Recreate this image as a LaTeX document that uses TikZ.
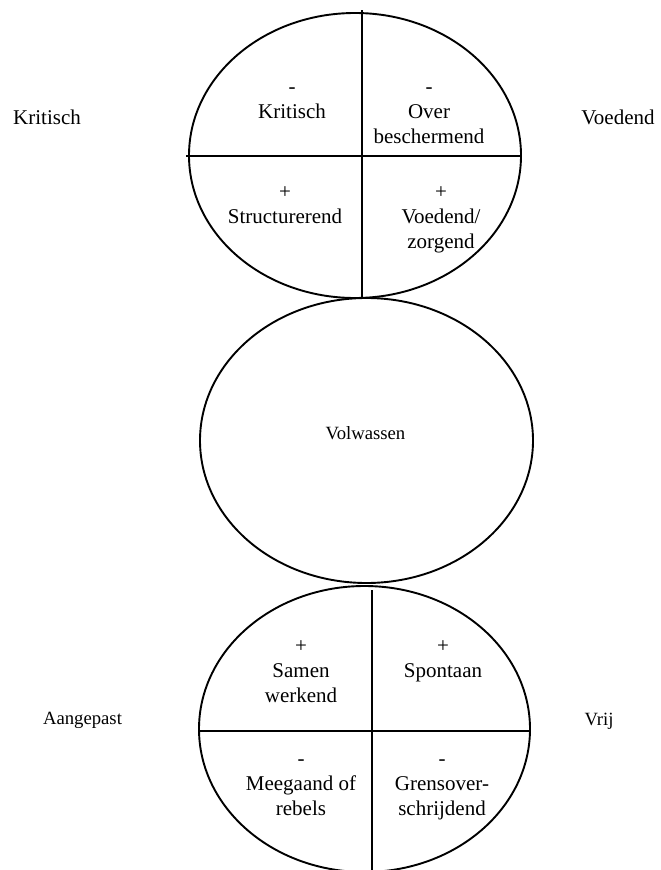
\documentclass[tikz,border=0pt]{standalone}
\usepackage{fontspec}
\setmainfont{Liberation Serif}
\usetikzlibrary{shapes.geometric}

\tikzset{
  oval/.style={draw, ellipse, line width=1.9pt, inner sep=0pt},
  divider/.style={line width=1.9pt},
  % base anchor of a multi-line node sits on its last line
  quad/.style={align=center, anchor=base, inner sep=0pt,
    font=\fontsize{21}{25}\selectfont},
  side/.style={anchor=base, inner sep=0pt, font=\fontsize{21}{25}\selectfont},
  small/.style={anchor=base, inner sep=0pt, font=\fontsize{18.7}{22}\selectfont}
}

\begin{document}
\begin{tikzpicture}[x=1pt, y=-1pt]
  \useasboundingbox (0,0) rectangle (661,870);

  % Ouder-ellips
  \node[oval, minimum width=332pt, minimum height=285pt] (ouder) at (355,155.5) {};
  \coordinate (o-n) at (362,10);
  \coordinate (o-s) at (362,298);
  \coordinate (o-w) at (186,156);
  \coordinate (o-e) at (522,156);
  \draw[divider] (o-n) -- (o-s);
  \draw[divider] (o-w) -- (o-e);

  % Volwassen-ellips
  \node[oval, minimum width=333pt, minimum height=285pt] (volw) at (366.5,440.5) {};

  % Kind-ellips
  \node[oval, minimum width=331pt, minimum height=286pt] (kind) at (364.5,729) {};
  \coordinate (k-n) at (372,590);
  \coordinate (k-s) at (372,880);
  \coordinate (k-w) at (199,731);
  \coordinate (k-e) at (530,731);
  \draw[divider] (k-n) -- (k-s);
  \draw[divider] (k-w) -- (k-e);

  % Teksten in de ouder-ellips
  \node[quad] (kritisch) at (292,118) {-\\Kritisch};
  \node[quad] (over) at (429,143) {-\\Over\\beschermend};
  \node[quad] (struct) at (285,223) {+\\Structurerend};
  \node[quad] (zorg) at (441,248) {+\\Voedend/\\zorgend};

  % Labels naast de ouder-ellips
  \node[side] (lkritisch) at (47,124) {Kritisch};
  \node[side] (rvoedend) at (618,124) {Voedend};

  % Volwassen
  \node[small] (volwtxt) at (365.5,439) {Volwassen};

  % Teksten in de kind-ellips
  \node[quad] (samen) at (301,702) {+\\Samen\\werkend};
  \node[quad] (spont) at (443,677) {+\\Spontaan};
  \node[quad] (mee) at (301,815) {-\\Meegaand of\\rebels};
  \node[quad] (grens) at (442,815) {-\\Grensover-\\schrijdend};

  % Labels naast de kind-ellips
  \node[small] (laangepast) at (82.5,724) {Aangepast};
  \node[small] (rvrij) at (599,725) {Vrij};
\end{tikzpicture}
\end{document}
